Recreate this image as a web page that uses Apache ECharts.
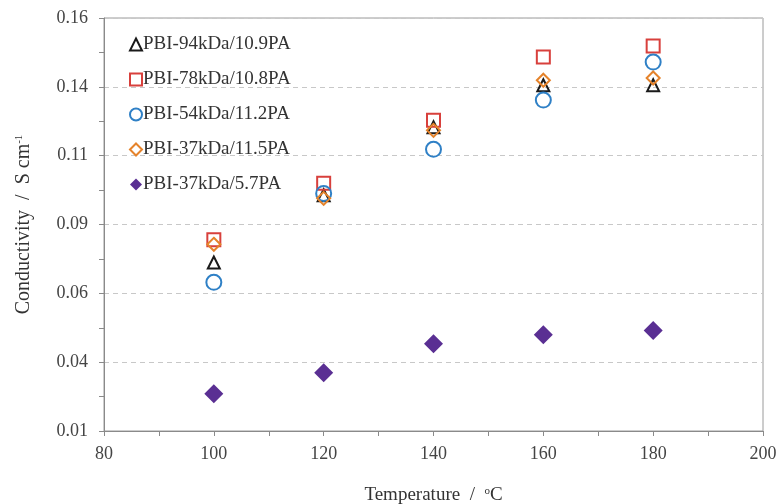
<!DOCTYPE html>
<html>
<head>
<meta charset="utf-8">
<script src="https://cdn.jsdelivr.net/npm/echarts@6/dist/echarts.min.js"></script>
<style>
  html, body { margin: 0; padding: 0; background: #fff; }
  #chart { width: 779px; height: 504px; }
</style>
</head>
<body>
<div id="chart"></div>
<script>
// 温度 (°C)
const temps = [100, 120, 140, 160, 180];

// 电导率 (S/cm)
const pbi94 = [0.0712, 0.0956, 0.1203, 0.1356, 0.1356];
const pbi78 = [0.0795, 0.1000, 0.1229, 0.1458, 0.1498];
const pbi54 = [0.0640, 0.0963, 0.1123, 0.1302, 0.1440];
const pbi37 = [0.0778, 0.0945, 0.1192, 0.1374, 0.1382];
const pbi37low = [0.0235, 0.0312, 0.0417, 0.0450, 0.0465];

// 刻度标签
const yTickLabels = ['0.01', '0.04', '0.06', '0.09', '0.11', '0.14', '0.16'];

const serif = '"Liberation Serif", "DejaVu Serif", serif';

function pairs(vals) {
    return temps.map((t, i) => [t, vals[i]]);
}

function hollow(name, vals, symbol, size, color) {
    return {
        name: name,
        type: 'scatter',
        symbol: symbol,
        symbolSize: size,
        itemStyle: { color: 'rgba(255,255,255,0)', borderColor: color, borderWidth: 2, opacity: 1 },
        data: pairs(vals)
    };
}

let chart = echarts.init(document.getElementById('chart'));

let option = {
    animation: false,
    grid: {
        left: 104, right: 16, top: 18, bottom: 73,
        outerBoundsMode: 'none',
        show: true, borderColor: '#9a9a9a', borderWidth: 1
    },
    legend: {
        orient: 'vertical',
        left: 124,
        top: 30,
        itemGap: 16,
        itemWidth: 12,
        itemHeight: 12,
        textStyle: { fontFamily: serif, fontSize: 19, color: '#333', padding: [0, 0, 0, -4] },
        data: ['PBI-94kDa/10.9PA', 'PBI-78kDa/10.8PA', 'PBI-54kDa/11.2PA', 'PBI-37kDa/11.5PA', 'PBI-37kDa/5.7PA']
    },
    xAxis: {
        type: 'value',
        min: 80, max: 200, interval: 20,
        name: '{a|Temperature  /  }{s|o}{a|C}',
        nameLocation: 'middle',
        nameGap: 55,
        nameTextStyle: {
            rich: {
                a: { fontFamily: serif, fontSize: 19, color: '#333' },
                s: { fontFamily: serif, fontSize: 11, color: '#333', verticalAlign: 'top', padding: [0, 0, 8, 0] }
            }
        },
        axisLine: { lineStyle: { color: '#8a8a8a' } },
        axisTick: { inside: false, length: 5, lineStyle: { color: '#8a8a8a' } },
        minorTick: { show: true, splitNumber: 2, length: 5, lineStyle: { color: '#8a8a8a' } },
        axisLabel: { fontFamily: serif, fontSize: 18, color: '#444', margin: 14 },
        splitLine: { show: false }
    },
    yAxis: {
        type: 'value',
        min: 0.01, max: 0.16, interval: 0.025,
        name: '{a|Conductivity  /  S cm}{s|-1}',
        nameLocation: 'middle',
        nameRotate: 90,
        nameGap: 70,
        nameTextStyle: {
            rich: {
                a: { fontFamily: serif, fontSize: 20, color: '#333' },
                s: { fontFamily: serif, fontSize: 11, color: '#333', verticalAlign: 'top', padding: [0, 0, 8, 0] }
            }
        },
        axisLine: { show: true, lineStyle: { color: '#8a8a8a' } },
        axisTick: { show: true, inside: false, length: 5, lineStyle: { color: '#8a8a8a' } },
        minorTick: { show: true, splitNumber: 2, length: 5, lineStyle: { color: '#8a8a8a' } },
        axisLabel: {
            fontFamily: serif, fontSize: 18, color: '#444', margin: 16,
            formatter: function (v) {
                return yTickLabels[Math.round((v - 0.01) / 0.025)];
            }
        },
        splitLine: { show: true, lineStyle: { color: '#c8c8c8', type: [5, 4] } }
    },
    series: [
        hollow('PBI-94kDa/10.9PA', pbi94, 'triangle', 12, '#1a1a1a'),
        hollow('PBI-78kDa/10.8PA', pbi78, 'rect', 13, '#d8403c'),
        hollow('PBI-54kDa/11.2PA', pbi54, 'circle', 15, '#2f80c6'),
        hollow('PBI-37kDa/11.5PA', pbi37, 'diamond', 13, '#e5832b'),
        {
            name: 'PBI-37kDa/5.7PA',
            type: 'scatter',
            symbol: 'diamond',
            symbolSize: 19,
            itemStyle: { color: '#5a2f93', opacity: 1 },
            data: pairs(pbi37low)
        }
    ]
};

chart.setOption(option);

window.onresize = function () {
    chart.resize();
};
</script>
</body>
</html>
